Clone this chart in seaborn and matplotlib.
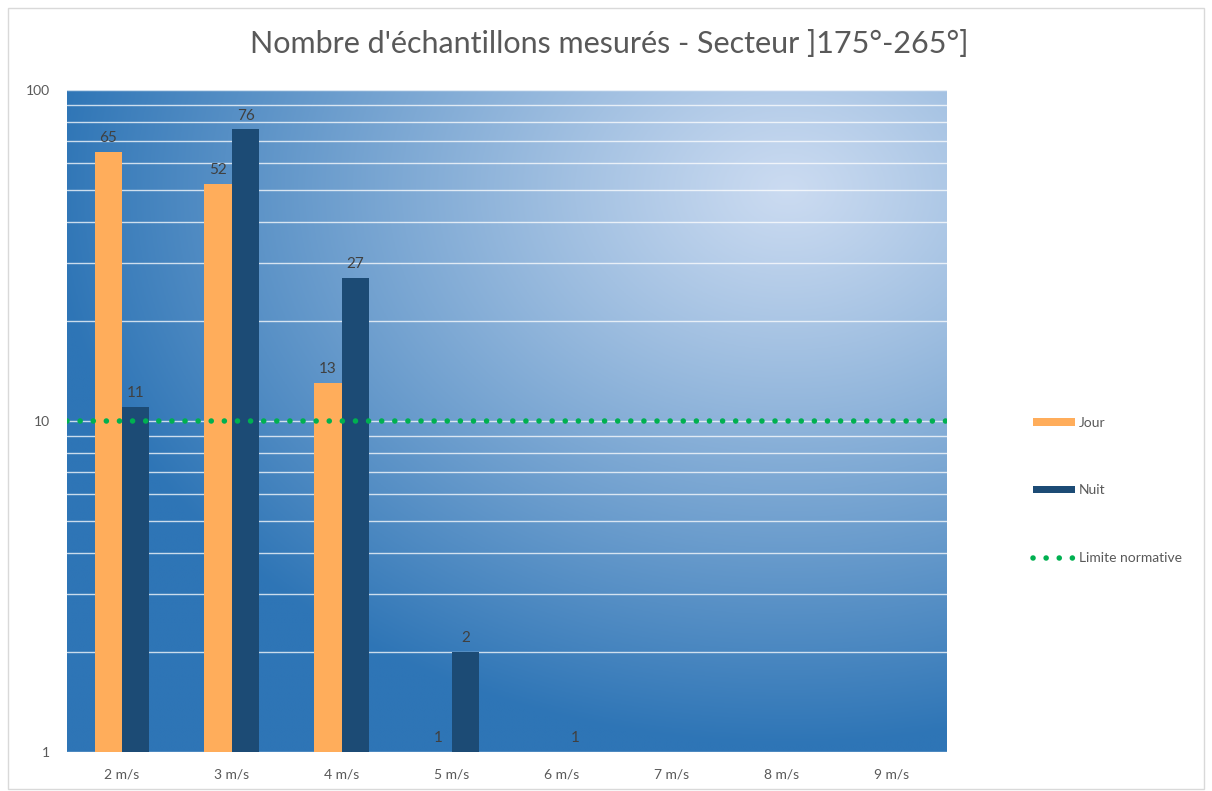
import numpy as np
import pandas as pd
import matplotlib.pyplot as plt
import matplotlib.colors as mcolors
from matplotlib.lines import Line2D
from matplotlib.patches import Patch, Rectangle
from matplotlib.ticker import FixedLocator, NullFormatter
import seaborn as sns

# ── Data ──────────────────────────────────────────────────────────────────────
vitesses = ['2 m/s', '3 m/s', '4 m/s', '5 m/s', '6 m/s', '7 m/s', '8 m/s', '9 m/s']
jour = [65, 52, 13, 1, np.nan, np.nan, np.nan, np.nan]
nuit = [11, 76, 27, 2, 1, np.nan, np.nan, np.nan]
limite = 10

df = pd.DataFrame({
    'vitesse': vitesses * 2,
    'periode': ['Jour'] * len(vitesses) + ['Nuit'] * len(vitesses),
    'n': jour + nuit,
})

c_jour = '#FFAD5B'
c_nuit = '#1C4B75'
c_lim = '#00B050'
c_txt = '#595959'

# ── Figure ────────────────────────────────────────────────────────────────────
sns.set_style('white')
plt.rcParams['font.family'] = ['Lato', 'DejaVu Sans']

fig = plt.figure(figsize=(12.12, 7.91), dpi=100)
ax = fig.add_axes([0.0553, 0.0493, 0.7257, 0.8369])

# gradient background (radial, light towards top right)
nx, ny = 400, 300
gx, gy = np.meshgrid(np.linspace(0, 1, nx), np.linspace(0, 1, ny))
d = np.sqrt(((gx - 0.82) * 1.25) ** 2 + ((gy - 0.85) * 1.25) ** 2)
t = np.clip(d / 1.05, 0, 1) ** 1.1
light = np.array(mcolors.to_rgb('#CBDBF1'))
dark = np.array(mcolors.to_rgb('#2E75B6'))
img = light[None, None, :] * (1 - t[..., None]) + dark[None, None, :] * t[..., None]
ax.imshow(img, extent=[0, 1, 0, 1], transform=ax.transAxes, origin='lower',
          aspect='auto', zorder=0)

sns.barplot(data=df, x='vitesse', y='n', hue='periode', order=vitesses,
            hue_order=['Jour', 'Nuit'], palette=[c_jour, c_nuit],
            width=0.5, ax=ax, legend=False, zorder=3, saturation=1,
            edgecolor='none', linewidth=0)

ax.set_yscale('log')
ax.set_ylim(1, 100)
ax.set_xlim(-0.5, len(vitesses) - 0.5)

ax.yaxis.set_major_locator(FixedLocator([1, 10, 100]))
ax.yaxis.set_minor_locator(FixedLocator(list(range(2, 10)) + list(range(20, 100, 10))))
ax.yaxis.set_minor_formatter(NullFormatter())
ax.set_yticklabels(['1', '10', '100'])
ax.grid(True, which='both', axis='y', color='white', alpha=0.75, lw=1.0, zorder=1)
ax.set_axisbelow(True)

ax.axhline(limite, color=c_lim, lw=4, linestyle=(0, (0.01, 2.35)),
           dash_capstyle='round', zorder=4)

for cont in ax.containers:
    ax.bar_label(cont, fmt='%g', padding=5, color='#404040', fontsize=11)

ax.tick_params(axis='both', length=0, labelsize=10, colors=c_txt, pad=12)
ax.set_xlabel('')
ax.set_ylabel('')
for s in ax.spines.values():
    s.set_visible(False)

fig.text(0.503, 0.945, "Nombre d'échantillons mesurés - Secteur ]175°-265°]",
         ha='center', va='center', fontsize=22, color=c_txt)

handles = [
    Patch(facecolor=c_jour, edgecolor='none'),
    Patch(facecolor=c_nuit, edgecolor='none'),
    Line2D([0], [0], color=c_lim, lw=4, linestyle=(0, (0.01, 2.35)),
           dash_capstyle='round'),
]
fig.legend(handles, ['Jour', 'Nuit', 'Limite normative'], loc='center left',
           bbox_to_anchor=(0.842, 0.38), frameon=False, fontsize=10,
           labelcolor=c_txt, labelspacing=4.0, handlelength=3.0,
           handleheight=0.5, handletextpad=0.3)

fig.patches.append(Rectangle((0.007, 0.003), 0.986, 0.987, transform=fig.transFigure,
                             fill=False, edgecolor='#D9D9D9', lw=1))

fig.savefig('out.png', dpi=100)
